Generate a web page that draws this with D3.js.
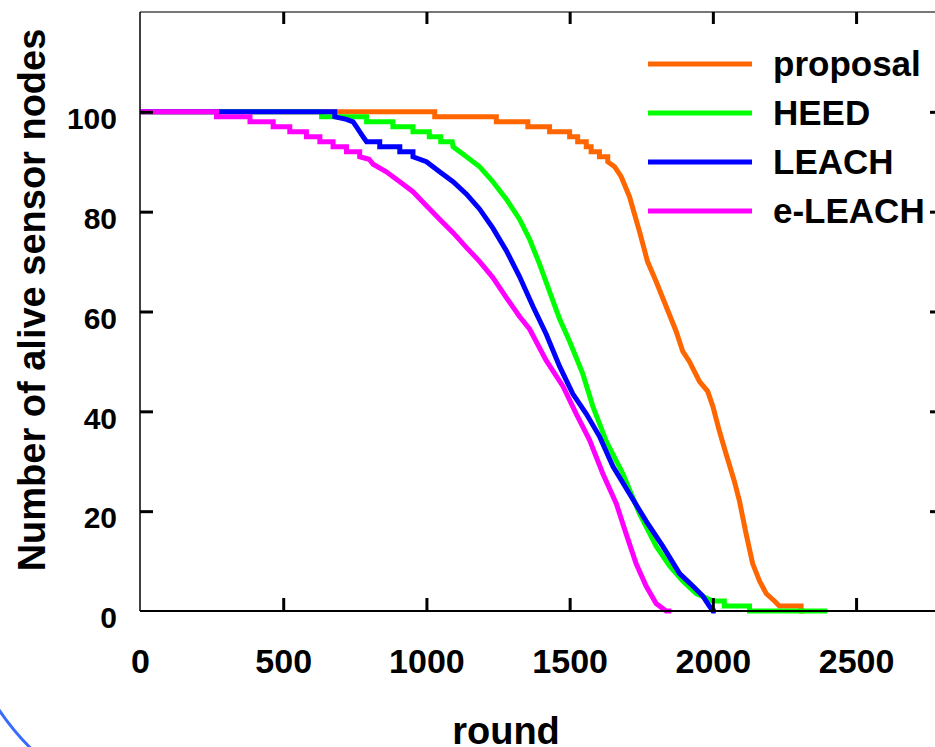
<!DOCTYPE html>
<html>
<head>
<meta charset="utf-8">
<script src="https://cdn.jsdelivr.net/npm/d3@7"></script>
<style>
  body { margin: 0; background: #ffffff; }
  svg { display: block; }
  text { font-family: "Liberation Sans", Arial, sans-serif; font-weight: bold; fill: #000; }
</style>
</head>
<body>
<div id="chart"></div>
<script>
// rounds vs. alive nodes (vertical drops are repeated rounds)
var proposal = [[0,100],[1029,100],[1029,99],[1244,99],[1244,98],[1354,98],[1354,97],[1430,97],[1430,96],
	[1500,96],[1500,95],[1528,95],[1528,94],[1558,94],[1558,93],[1575,93],[1575,92],[1604,92],[1604,91],
	[1633,91],[1633,90],[1657,89],[1680,87],[1709,83],[1744,76],[1772,70],[1802,66],[1837,61],[1872,56],
	[1895,52],[1918,50],[1953,46],[1982,44],[2000,41],[2023,36],[2046,31.5],[2075,26],[2093,22],[2116,15.5],
	[2139,9.5],[2163,6],[2186,3.5],[2215,2],[2232,1],[2308,1],[2308,0],[2320,0]];
var heed = [[0,100],[634,100],[634,99],[791,99],[791,98],[883,98],[883,97],[953,97],[953,96],[1010,96],
	[1010,95],[1050,95],[1050,94],[1090,94],[1093,93],[1140,91],[1186,89],[1232,86],[1279,82.5],[1325,78.5],
	[1360,74.5],[1395,69.5],[1430,64],[1465,58.5],[1500,54],[1546,47.5],[1581,41],[1628,34],[1686,27.5],
	[1744,19.5],[1802,13],[1849,9],[1895,6],[1942,3.5],[2000,2],[2040,2],[2040,1],[2128,1],[2128,0],[2400,0]];
var leach = [[0,100],[680,100],[680,99],[721,98.5],[744,98],[756,97],[779,95],[791,94],[837,94],[837,93],
	[907,93],[907,92],[953,92],[953,91],[1000,90],[1046,88],[1093,86],[1140,83.5],[1186,80.5],[1232,76.7],
	[1279,72.2],[1325,67],[1372,61],[1418,55.5],[1465,49],[1511,43.5],[1558,39.5],[1604,35],[1651,29],
	[1709,23.5],[1767,18],[1825,13],[1884,7.5],[1930,5],[1965,3],[1988,1],[2000,0],[2010,0]];
var eleach = [[0,100],[267,100],[267,99],[384,99],[384,98],[465,98],[465,97],[523,97],[523,96],[581,96],
	[581,95],[628,95],[628,94],[674,94],[674,93],[721,93],[721,92],[767,92],[767,91],[800,90.5],[814,89.5],
	[860,88],[907,86],[953,84],[1000,81.2],[1046,78.5],[1093,75.8],[1140,72.8],[1186,70],[1232,66.8],
	[1279,62.8],[1325,59],[1360,56.5],[1418,50.2],[1477,45],[1523,39.5],[1570,34.2],[1616,27.5],[1663,21.5],
	[1697,15.5],[1732,9.5],[1767,5],[1802,1.5],[1837,0],[1855,0]];

var seriesNames = ["proposal", "HEED", "LEACH", "e-LEACH"];
var seriesColors = ["#ff6600", "#00ff00", "#0000ff", "#ff00ff"];
var seriesData = [proposal, heed, leach, eleach];

var xTicks = [0, 500, 1000, 1500, 2000, 2500];
var yTicks = [0, 20, 40, 60, 80, 100];

var width = 935, height = 747;
var plotLeft = 140, plotRight = 942, plotTop = 12, plotBottom = 611;

var svg = d3.select("#chart").append("svg")
	.attr("width", width)
	.attr("height", height);

var x = d3.scaleLinear().domain([0, 2800]).range([plotLeft, plotRight]);
var y = d3.scaleLinear().domain([0, 120]).range([plotBottom, plotTop]);

// curves, drawn in the same order as the original (e-LEACH on top)
var line = d3.line()
	.x(function (d) { return x(d[0]); })
	.y(function (d) { return y(d[1]); })
	.curve(d3.curveLinear);

svg.selectAll("path.series")
	.data(seriesData)
	.enter()
	.append("path")
	.attr("class", "series")
	.attr("d", line)
	.attr("fill", "none")
	.attr("stroke", function (d, i) { return seriesColors[i]; })
	.attr("stroke-width", 5)
	.attr("stroke-linejoin", "miter");

// frame
svg.append("line").attr("x1", plotLeft).attr("x2", width).attr("y1", plotTop).attr("y2", plotTop)
	.attr("stroke", "#777").attr("stroke-width", 2);
svg.append("line").attr("x1", plotLeft).attr("x2", plotLeft).attr("y1", plotTop).attr("y2", plotBottom)
	.attr("stroke", "#000").attr("stroke-width", 1.5);
svg.append("line").attr("x1", plotLeft).attr("x2", width).attr("y1", plotBottom).attr("y2", plotBottom)
	.attr("stroke", "#000").attr("stroke-width", 2);

// axes (inward ticks)
var xAxis = svg.append("g")
	.attr("transform", "translate(0," + plotBottom + ")")
	.call(d3.axisBottom(x).tickValues(xTicks).tickFormat(d3.format("d")).tickSize(-13).tickPadding(38));
var yAxis = svg.append("g")
	.attr("transform", "translate(" + plotLeft + ",0)")
	.call(d3.axisLeft(y).tickValues(yTicks).tickFormat(d3.format("d")).tickSize(-13).tickPadding(23));
var topAxis = svg.append("g")
	.attr("transform", "translate(0," + plotTop + ")")
	.call(d3.axisTop(x).tickValues(xTicks.slice(1)).tickSize(-12).tickFormat(""));
var rightAxis = svg.append("g")
	.attr("transform", "translate(" + plotRight + ",0)")
	.call(d3.axisRight(y).tickValues(yTicks.slice(1)).tickSize(-12).tickFormat(""));

[xAxis, yAxis, topAxis, rightAxis].forEach(function (g) {
	g.select(".domain").remove();
	g.selectAll(".tick line").attr("stroke", "#000").attr("stroke-width", 3);
});
xAxis.selectAll(".tick line").filter(function (d) { return d === 0; }).remove();
yAxis.selectAll(".tick line").filter(function (d) { return d === 0; }).remove();

xAxis.selectAll("text")
	.attr("font-size", "34px")
	.attr("font-family", "Liberation Sans, Arial, sans-serif")
	.attr("font-weight", "bold")
	.attr("fill", "#000");
yAxis.selectAll("text")
	.attr("font-size", "30px")
	.attr("font-family", "Liberation Sans, Arial, sans-serif")
	.attr("font-weight", "bold")
	.attr("fill", "#000")
	.attr("dy", "0.56em");

// axis titles
svg.append("text")
	.attr("x", 506)
	.attr("y", 744)
	.attr("text-anchor", "middle")
	.attr("font-size", "38px")
	.text("round");
svg.append("text")
	.attr("transform", "translate(45,300) rotate(-90)")
	.attr("text-anchor", "middle")
	.attr("font-size", "38px")
	.text("Number of alive sensor nodes");

// legend
var legend = svg.selectAll("g.legend")
	.data(seriesNames)
	.enter()
	.append("g")
	.attr("class", "legend")
	.attr("transform", function (d, i) { return "translate(0," + (64 + i * 49) + ")"; });
legend.append("line")
	.attr("x1", 648).attr("x2", 752)
	.attr("y1", 0).attr("y2", 0)
	.attr("stroke", function (d, i) { return seriesColors[i]; })
	.attr("stroke-width", 5);
legend.append("text")
	.attr("x", 773)
	.attr("y", 12)
	.attr("font-size", "35px")
	.text(function (d) { return d; });

// stray blue circle mark in the bottom-left corner
var arc = d3.path();
arc.arc(220, 560, 267, 133 * Math.PI / 180, 147 * Math.PI / 180);
svg.append("path")
	.attr("d", arc.toString())
	.attr("fill", "none")
	.attr("stroke", "#3a6bff")
	.attr("stroke-width", 3);
</script>
</body>
</html>
